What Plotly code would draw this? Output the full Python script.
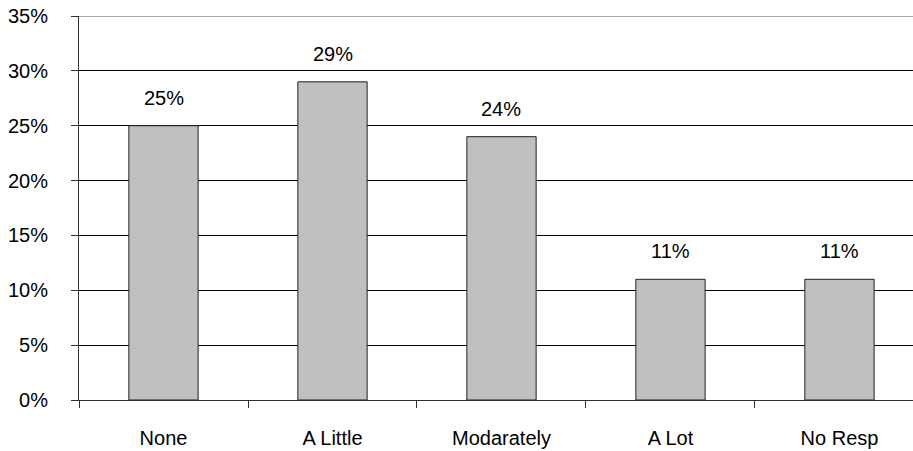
import plotly.graph_objects as go

categories = ["None", "A Little", "Modarately", "A Lot", "No Resp"]
values = [0.25, 0.29, 0.24, 0.11, 0.11]
labels = ["25%", "29%", "24%", "11%", "11%"]
y_ticks = [0, 0.05, 0.10, 0.15, 0.20, 0.25, 0.30, 0.35]
y_tick_text = ["0%", "5%", "10%", "15%", "20%", "25%", "30%", "35%"]

font = dict(family="Liberation Sans, Arial, sans-serif", size=20, color="black")

fig = go.Figure()

fig.add_trace(
    go.Bar(
        x=categories,
        y=values,
        width=0.41,
        marker=dict(color="#C0C0C0", line=dict(color="#202020", width=1)),
        hoverinfo="skip",
    )
)

for cat, val, lab in zip(categories, values, labels):
    fig.add_annotation(
        x=cat, y=val, text=lab, showarrow=False,
        yanchor="bottom", yshift=15, font=font,
    )

# top border of the plot area is grey in the reference
fig.add_shape(
    type="line", xref="paper", yref="y", x0=0, x1=1, y0=0.35, y1=0.35,
    line=dict(color="#8c8c8c", width=1.5),
)

fig.update_layout(
    width=913,
    height=451,
    margin=dict(l=79, r=0, t=16, b=51, autoexpand=False),
    paper_bgcolor="white",
    plot_bgcolor="white",
    showlegend=False,
    font=font,
)

fig.update_xaxes(
    range=[-0.5, 4.435],
    automargin=False,
    showline=True,
    linecolor="#303030",
    linewidth=1,
    ticks="outside",
    tickson="boundaries",
    ticklen=7,
    tickcolor="#303030",
    showgrid=False,
    ticklabelstandoff=20,
    tickfont=font,
)

fig.update_yaxes(
    range=[0, 0.35],
    automargin=False,
    tickvals=y_ticks,
    ticktext=y_tick_text,
    showline=True,
    linecolor="#303030",
    linewidth=1,
    ticks="outside",
    ticklen=7,
    tickcolor="#303030",
    showgrid=True,
    gridcolor="black",
    gridwidth=1,
    zeroline=False,
    ticklabelstandoff=19,
    tickfont=font,
)

# drop the default body margin so the figure sits at the window's corner
fig.write_html(
    "out.html",
    config={"displayModeBar": False},
    post_script="document.body.style.margin='0';",
)
